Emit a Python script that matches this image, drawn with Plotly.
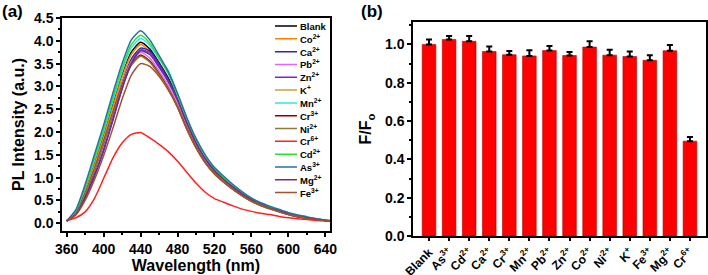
import plotly.graph_objects as go

# ---------------- Panel (a) data: PL spectra ----------------
wavelength = [360, 370, 380, 390, 400, 410, 420, 430, 440, 450, 460, 470, 480, 490, 500,
              510, 520, 530, 540, 550, 560, 570, 580, 590, 600, 610, 620, 630, 640, 645]

blank = [0.05, 0.25, 0.72, 1.30, 1.92, 2.60, 3.25, 3.75, 3.97, 3.82, 3.52, 3.18, 2.75, 2.22, 1.78,
         1.43, 1.16, 0.97, 0.80, 0.65, 0.52, 0.42, 0.34, 0.28, 0.21, 0.16, 0.12, 0.09, 0.06, 0.05]
co2 = [0.05, 0.24, 0.70, 1.27, 1.88, 2.55, 3.20, 3.70, 3.92, 3.76, 3.46, 3.12, 2.70, 2.18, 1.74,
       1.40, 1.14, 0.95, 0.78, 0.63, 0.50, 0.41, 0.33, 0.27, 0.20, 0.15, 0.12, 0.09, 0.06, 0.05]
ca2 = [0.05, 0.22, 0.62, 1.15, 1.75, 2.42, 3.08, 3.60, 3.84, 3.78, 3.50, 3.16, 2.75, 2.24, 1.80,
       1.45, 1.18, 0.98, 0.81, 0.66, 0.53, 0.43, 0.35, 0.28, 0.21, 0.16, 0.12, 0.09, 0.06, 0.05]
pb2 = [0.05, 0.22, 0.64, 1.18, 1.78, 2.42, 3.05, 3.55, 3.75, 3.62, 3.34, 3.02, 2.62, 2.12, 1.70,
       1.37, 1.11, 0.93, 0.77, 0.62, 0.50, 0.40, 0.33, 0.26, 0.20, 0.15, 0.11, 0.08, 0.06, 0.05]
zn2 = [0.05, 0.20, 0.55, 1.02, 1.58, 2.25, 2.95, 3.52, 3.80, 3.74, 3.46, 3.12, 2.72, 2.22, 1.78,
       1.43, 1.16, 0.97, 0.80, 0.65, 0.52, 0.42, 0.34, 0.27, 0.21, 0.16, 0.12, 0.09, 0.06, 0.05]
k1 = [0.05, 0.23, 0.66, 1.20, 1.80, 2.45, 3.05, 3.52, 3.70, 3.56, 3.28, 2.96, 2.56, 2.08, 1.67,
      1.34, 1.09, 0.91, 0.75, 0.61, 0.49, 0.40, 0.32, 0.26, 0.19, 0.15, 0.11, 0.08, 0.06, 0.05]
mn2 = [0.05, 0.26, 0.78, 1.38, 2.00, 2.68, 3.32, 3.85, 4.05, 3.90, 3.60, 3.35, 2.82, 2.30, 1.84,
       1.48, 1.21, 1.01, 0.84, 0.68, 0.55, 0.45, 0.37, 0.30, 0.23, 0.18, 0.14, 0.10, 0.07, 0.06]
cr3 = [0.05, 0.22, 0.65, 1.18, 1.78, 2.42, 3.02, 3.48, 3.68, 3.55, 3.28, 2.95, 2.55, 2.07, 1.66,
       1.33, 1.08, 0.90, 0.74, 0.60, 0.48, 0.39, 0.32, 0.25, 0.19, 0.14, 0.11, 0.08, 0.06, 0.05]
ni2 = [0.05, 0.22, 0.64, 1.17, 1.76, 2.40, 3.00, 3.46, 3.66, 3.53, 3.26, 2.94, 2.54, 2.06, 1.65,
       1.32, 1.08, 0.90, 0.74, 0.60, 0.48, 0.39, 0.31, 0.25, 0.19, 0.14, 0.11, 0.08, 0.06, 0.05]
cr6 = [0.06, 0.12, 0.25, 0.54, 0.98, 1.43, 1.76, 1.95, 1.99, 1.87, 1.73, 1.57, 1.36, 1.12, 0.88,
       0.68, 0.54, 0.46, 0.38, 0.31, 0.26, 0.22, 0.19, 0.15, 0.12, 0.10, 0.08, 0.06, 0.05, 0.05]
cd2 = [0.05, 0.27, 0.80, 1.42, 2.05, 2.75, 3.40, 3.92, 4.12, 3.95, 3.62, 3.28, 2.80, 2.28, 1.82,
       1.47, 1.20, 1.00, 0.83, 0.67, 0.54, 0.44, 0.36, 0.29, 0.22, 0.17, 0.13, 0.10, 0.07, 0.05]
as3 = [0.05, 0.30, 0.85, 1.50, 2.15, 2.85, 3.50, 4.02, 4.22, 4.02, 3.68, 3.32, 2.85, 2.32, 1.86,
       1.50, 1.22, 1.03, 0.85, 0.69, 0.55, 0.45, 0.37, 0.30, 0.23, 0.18, 0.14, 0.10, 0.07, 0.06]
mg2 = [0.05, 0.20, 0.56, 1.05, 1.62, 2.28, 2.95, 3.50, 3.78, 3.70, 3.42, 3.10, 2.70, 2.20, 1.76,
       1.41, 1.15, 0.96, 0.79, 0.64, 0.51, 0.41, 0.33, 0.27, 0.20, 0.15, 0.12, 0.09, 0.06, 0.05]
fe3 = [0.05, 0.18, 0.50, 0.95, 1.48, 2.08, 2.72, 3.25, 3.50, 3.44, 3.22, 2.92, 2.55, 2.08, 1.67,
       1.34, 1.09, 0.91, 0.75, 0.61, 0.49, 0.40, 0.32, 0.26, 0.19, 0.15, 0.11, 0.08, 0.06, 0.05]

series_names = ["Blank", "Co<sup>2+</sup>", "Ca<sup>2+</sup>", "Pb<sup>2+</sup>", "Zn<sup>2+</sup>",
                "K<sup>+</sup>", "Mn<sup>2+</sup>", "Cr<sup>3+</sup>", "Ni<sup>2+</sup>",
                "Cr<sup>6+</sup>", "Cd<sup>2+</sup>", "As<sup>3+</sup>", "Mg<sup>2+</sup>",
                "Fe<sup>3+</sup>"]
series_values = [blank, co2, ca2, pb2, zn2, k1, mn2, cr3, ni2, cr6, cd2, as3, mg2, fe3]
series_colors = ["#000000", "#FF8000", "#2A2AA5", "#E066FF", "#7B22E0", "#C8A046", "#33E5E5",
                 "#8B0000", "#8B7B3A", "#FF2020", "#33DD33", "#2472A4", "#6A2C91", "#A0522D"]

# ---------------- Panel (b) data: F/F0 bars ----------------
ions = ["Blank", "As<sup>3+</sup>", "Cd<sup>2+</sup>", "Ca<sup>2+</sup>", "Cr<sup>3+</sup>",
        "Mn<sup>2+</sup>", "Pb<sup>2+</sup>", "Zn<sup>2+</sup>", "Co<sup>2+</sup>", "Ni<sup>2+</sup>",
        "K<sup>+</sup>", "Fe<sup>3+</sup>", "Mg<sup>2+</sup>", "Cr<sup>6+</sup>"]
ratio = [1.000, 1.026, 1.016, 0.963, 0.946, 0.940, 0.968, 0.942, 0.986, 0.944, 0.937, 0.917, 0.967, 0.495]
ratio_err = [0.026, 0.018, 0.028, 0.026, 0.020, 0.030, 0.024, 0.018, 0.030, 0.028, 0.026, 0.026, 0.030, 0.022]

FONT = "Arial, Liberation Sans, sans-serif"
fig = go.Figure()

for name, vals, col in zip(series_names, series_values, series_colors):
    fig.add_trace(go.Scatter(x=wavelength, y=vals, mode="lines", name=name,
                             line=dict(color=col, width=1.5, shape="spline", smoothing=0.6),
                             showlegend=False, xaxis="x", yaxis="y"))

# custom compact legend (drawn on its own overlay axes, index-based rows)
for i, (name, col) in enumerate(zip(series_names, series_colors)):
    fig.add_trace(go.Scatter(x=[0.0, 0.4], y=[i, i], mode="lines",
                             line=dict(color=col, width=1.5), showlegend=False,
                             hoverinfo="skip", xaxis="x3", yaxis="y3"))
    fig.add_annotation(x=0.41, y=i, xref="x3", yref="y3", text=name, showarrow=False,
                       xanchor="left", yanchor="middle",
                       font=dict(family=FONT, size=9.5, color="black", weight="bold"))

fig.add_trace(go.Bar(x=ions, y=ratio, marker=dict(color="#FF0000", line=dict(color="#B00000", width=0.6)),
                     error_y=dict(type="data", array=ratio_err, arrayminus=[0] * len(ratio_err),
                                  color="black", thickness=2, width=3),
                     showlegend=False, xaxis="x2", yaxis="y2"))

axis_common = dict(showline=True, linecolor="black", linewidth=1.5, mirror=True,
                   ticks="outside", tickwidth=1.5, tickcolor="black",
                   showgrid=False, zeroline=False, automargin=False)
tick14 = dict(family=FONT, size=14, color="black", weight="bold")
title_font = dict(family=FONT, size=16, color="black", weight="bold")

fig.update_layout(
    width=708, height=275, margin=dict(l=0, r=0, t=0, b=0),
    paper_bgcolor="white", plot_bgcolor="white", bargap=0.32,
    xaxis=dict(domain=[0.0876, 0.4661], range=[355, 645], dtick=40, tick0=360, tickfont=tick14,
               ticklen=4,
               minor=dict(ticks="outside", dtick=20, ticklen=2.5, tickcolor="black"),
               title=dict(text="Wavelength (nm)", standoff=3, font=title_font),
               anchor="y", **axis_common),
    yaxis=dict(domain=[0.16, 0.9345], range=[-0.17, 4.5], dtick=0.5, tick0=0, tickformat=".1f",
               tickfont=tick14, ticklen=4,
               minor=dict(ticks="outside", dtick=0.25, ticklen=2.5, tickcolor="black"),
               title=dict(text="PL Intensity (a.u.)", standoff=5, font=title_font),
               anchor="x", **axis_common),
    xaxis2=dict(domain=[0.5833, 0.9972], range=[-0.8, 13.8], tickangle=-45, ticklen=3,
                tickfont=dict(family=FONT, size=12, color="black", weight="bold"),
                anchor="y2", **axis_common),
    yaxis2=dict(domain=[0.1418, 0.92], range=[0, 1.117], dtick=0.2, tick0=0, tickformat=".1f",
                tickfont=tick14, ticklen=4,
                minor=dict(ticks="outside", dtick=0.1, ticklen=2.5, tickcolor="black"),
                title=dict(text="F/F<sub>o</sub>", standoff=9, font=title_font),
                anchor="x2", **axis_common),
    xaxis3=dict(domain=[0.3884, 0.4661], range=[0, 1], visible=False, anchor="y3", automargin=False),
    yaxis3=dict(domain=[0.2764, 0.9287], range=[13.5, -0.5], visible=False, anchor="x3",
                automargin=False),
)

fig.add_annotation(x=0.0, y=1.0, xref="paper", yref="paper", text="(a)", showarrow=False,
                   xanchor="left", yanchor="top",
                   font=dict(family=FONT, size=17, color="black", weight="bold"))
fig.add_annotation(x=0.507, y=1.0, xref="paper", yref="paper", text="(b)", showarrow=False,
                   xanchor="left", yanchor="top",
                   font=dict(family=FONT, size=17, color="black", weight="bold"))

fig.write_html("out.html", config={"displayModeBar": False},
               post_script="document.body.style.margin='0';")
